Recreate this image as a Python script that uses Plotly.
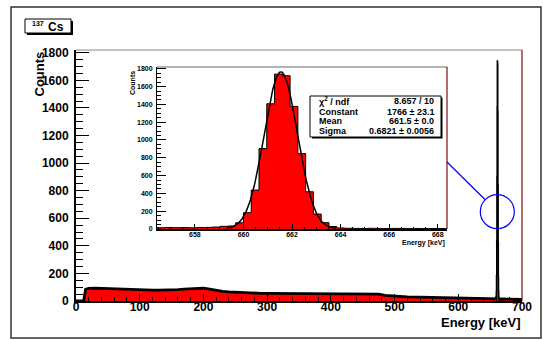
import numpy as np
import plotly.graph_objects as go

# ---------------- data ----------------
# main spectrum continuum (energy keV, counts)
cont_e = [0, 12, 15, 20, 30, 40, 50, 60, 70, 80, 90, 100, 110, 120, 130, 140, 150, 160, 170,
          180, 190, 200, 210, 220, 230, 240, 250, 260, 270, 280, 290, 300, 320, 340, 360, 380,
          400, 420, 440, 460, 475, 485, 500, 520, 540, 560, 580, 600, 620, 640, 656, 668, 680, 700]
cont_c = [0, 0, 85, 92, 94, 92, 90, 87, 86, 84, 83, 82, 80, 79, 79, 79, 80, 82, 86,
          90, 95, 94, 86, 76, 70, 66, 63, 61, 59, 57, 56, 55, 54, 53, 53, 53,
          52, 52, 52, 52, 50, 40, 35, 30, 28, 26, 24, 22, 21, 20, 19, 13, 12, 11]

# photopeak region, bins of 0.32 keV starting at 656.16 keV
peak_start = 656.16
peak_binw = 0.32
peak_c = [16, 14, 17, 15, 16, 14, 17, 18, 22, 30, 34, 70, 183, 437, 903, 1407, 1740, 1722,
          1377, 847, 418, 168, 71, 28, 12, 8, 7, 6, 8, 6, 5, 7, 6, 5, 6, 5, 6, 5, 5]

# gaussian fit results
fit_const, fit_const_err = 1766, 23.1
fit_mean, fit_mean_err = 661.54, 0.0
fit_sigma, fit_sigma_err = 0.6821, 0.0056
fit_chi2, fit_ndf = 8.657, 10
fit_range = (659.3, 663.8)

x_ticks_main = [0, 100, 200, 300, 400, 500, 600, 700]
y_ticks = [0, 200, 400, 600, 800, 1000, 1200, 1400, 1600, 1800]
x_ticks_inset = [658, 660, 662, 664, 666, 668]

# ---------------- geometry helpers ----------------
W, H = 543, 340
L, R, T, B = 76, 21, 50, 39
pw, ph = W - L - R, H - T - B


def px(x):
    return (x - L) / pw


def py(y):
    return (H - B - y) / ph


FONT = "Liberation Sans, Arial, Helvetica, sans-serif"

# step arrays for the peak histogram
edges = [peak_start + i * peak_binw for i in range(len(peak_c) + 1)]
step_x = [edges[0]] + edges[:-1] + [edges[-1], edges[-1]]
step_y = [0] + peak_c + [peak_c[-1], 0]

gx = np.linspace(fit_range[0], fit_range[1], 300)
gy = fit_const * np.exp(-0.5 * ((gx - fit_mean) / fit_sigma) ** 2)

fig = go.Figure()

# main spectrum
fig.add_trace(go.Scatter(x=cont_e, y=cont_c, mode="lines", line=dict(color="black", width=2.8),
                         fill="tozeroy", fillcolor="red", xaxis="x", yaxis="y", showlegend=False,
                         hoverinfo="skip"))
fig.add_trace(go.Scatter(x=step_x, y=step_y, mode="lines", line=dict(color="black", width=1.5, shape="hv"),
                         fill="tozeroy", fillcolor="red", xaxis="x", yaxis="y", showlegend=False,
                         hoverinfo="skip"))
# inset
fig.add_trace(go.Scatter(x=step_x, y=step_y, mode="lines", line=dict(color="black", width=1, shape="hv"),
                         fill="tozeroy", fillcolor="red", xaxis="x2", yaxis="y2", showlegend=False,
                         hoverinfo="skip"))
fig.add_trace(go.Scatter(x=gx, y=gy, mode="lines", line=dict(color="black", width=1.5),
                         xaxis="x2", yaxis="y2", showlegend=False, hoverinfo="skip"))

inset_x0, inset_x1, inset_y0, inset_y1 = 157, 447, 229, 67

tf_main = dict(family=FONT, size=12, color="black", weight="bold")
tf_in = dict(family=FONT, size=7, color="black", weight="bold")

fig.update_layout(
    width=W, height=H,
    margin=dict(l=L, r=R, t=T, b=B, pad=0),
    paper_bgcolor="white", plot_bgcolor="white",
    xaxis=dict(domain=[0, 1], range=[0, 700], tickvals=x_ticks_main, ticks="inside", ticklen=7.5,
               tickwidth=1, tickcolor="black", showline=True, linewidth=2, linecolor="black",
               showgrid=False, zeroline=False, tickfont=tf_main, ticklabelstandoff=-6,
               minor=dict(ticks="inside", dtick=20, ticklen=4, tickwidth=1, tickcolor="black", showgrid=False),
               anchor="y"),
    yaxis=dict(domain=[0, 1], range=[0, 1820], tickvals=y_ticks, ticks="inside", ticklen=13,
               tickwidth=1, tickcolor="black", showline=True, linewidth=2, linecolor="black",
               showgrid=False, zeroline=False, tickfont=tf_main, ticklabelstandoff=3,
               minor=dict(ticks="inside", dtick=50, ticklen=6.5, tickwidth=1, tickcolor="black", showgrid=False),
               anchor="x"),
    xaxis2=dict(domain=[px(inset_x0), px(inset_x1)], range=[656.44, 668.38], tickvals=x_ticks_inset,
                ticks="inside", ticklen=5, tickwidth=1, tickcolor="black", showline=True, linewidth=1.5,
                linecolor="black", showgrid=False, zeroline=False, tickfont=tf_in, ticklabelstandoff=-2,
                minor=dict(ticks="inside", dtick=0.5, ticklen=2.5, tickwidth=1, tickcolor="black", showgrid=False),
                anchor="y2"),
    yaxis2=dict(domain=[py(inset_y0), py(inset_y1)], range=[0, 1820], tickvals=y_ticks,
                ticks="inside", ticklen=8.5, tickwidth=1, tickcolor="black", showline=True, linewidth=1,
                linecolor="black", showgrid=False, zeroline=False, tickfont=tf_in, ticklabelstandoff=2,
                minor=dict(ticks="inside", dtick=50, ticklen=4, tickwidth=1, tickcolor="black", showgrid=False),
                anchor="x2"),
)

shapes = []
# outer canvas border
shapes.append(dict(type="rect", xref="paper", yref="paper", x0=px(11), x1=px(541), y0=py(338), y1=py(7),
                   line=dict(color="#333333", width=1.5)))
# main frame top / right
shapes.append(dict(type="line", xref="paper", yref="paper", x0=0, x1=1, y0=1, y1=1,
                   line=dict(color="#888888", width=1)))
shapes.append(dict(type="line", xref="paper", yref="paper", x0=1, x1=1, y0=0, y1=1,
                   line=dict(color="#7a1010", width=1.2)))
# inset frame top / right
shapes.append(dict(type="line", xref="paper", yref="paper", x0=px(inset_x0), x1=px(inset_x1),
                   y0=py(inset_y1), y1=py(inset_y1), line=dict(color="#666666", width=1)))
shapes.append(dict(type="line", xref="paper", yref="paper", x0=px(inset_x1), x1=px(inset_x1),
                   y0=py(inset_y0), y1=py(inset_y1), line=dict(color="#7a1010", width=1.2)))
# title box with shadow
shapes.append(dict(type="rect", xref="paper", yref="paper", x0=px(27), x1=px(73), y0=py(35), y1=py(21),
                   line=dict(width=0), fillcolor="black"))
shapes.append(dict(type="rect", xref="paper", yref="paper", x0=px(25), x1=px(71), y0=py(33), y1=py(19),
                   line=dict(color="black", width=1), fillcolor="white"))
# stats box with shadow
shapes.append(dict(type="rect", xref="paper", yref="paper", x0=px(312), x1=px(442.5), y0=py(138.5), y1=py(97.5),
                   line=dict(width=0), fillcolor="black"))
shapes.append(dict(type="rect", xref="paper", yref="paper", x0=px(310), x1=px(441), y0=py(137), y1=py(96),
                   line=dict(color="black", width=1), fillcolor="white"))
# zoom marker: circle round the peak and connecting line
shapes.append(dict(type="circle", xref="paper", yref="paper", x0=px(480.3), x1=px(514.3),
                   y0=py(228.7), y1=py(194.7), line=dict(color="blue", width=1.2)))
shapes.append(dict(type="line", xref="paper", yref="paper", x0=px(447), x1=px(485.2),
                   y0=py(162), y1=py(199.7), line=dict(color="blue", width=1.2)))
fig.update_layout(shapes=shapes)

ann = []


def text(t, x, y, size, xanchor="left", yanchor="middle", angle=0, bold=True):
    ann.append(dict(text=t, xref="paper", yref="paper", x=px(x), y=py(y), xanchor=xanchor, yanchor=yanchor,
                    showarrow=False, textangle=angle,
                    font=dict(family=FONT, size=size, color="black", weight="bold" if bold else "normal")))


text("Counts", 39, 50, 13, xanchor="center", yanchor="top", angle=-90)
text("Energy [keV]", 522, 322, 13, xanchor="right")
text("Counts", 132, 69, 7, xanchor="center", yanchor="top", angle=-90)
text("Energy [keV]", 447, 242.5, 7, xanchor="right")
text("137", 46, 23.5, 7, xanchor="right")
text("Cs", 45.5, 27, 12)

rows = [
    ("\u03c7<sup>2</sup> / ndf", f"{fit_chi2:.3f} / {fit_ndf}", 101),
    ("Constant", f"{fit_const} \u00b1 {fit_const_err:.1f}", 111.5),
    ("Mean", f"{fit_mean:.1f} \u00b1 {fit_mean_err:.1f}", 121.2),
    ("Sigma", f"{fit_sigma:.4f} \u00b1 {fit_sigma_err:.4f}", 130.8),
]
for lt, rt, yy in rows:
    text(lt, 316.5, yy, 9)
    text(rt, 435.5, yy, 9, xanchor="right")

fig.update_layout(annotations=ann)

fig.write_html("out.html", config={"displayModeBar": False},
               post_script="document.body.style.margin='0';")
